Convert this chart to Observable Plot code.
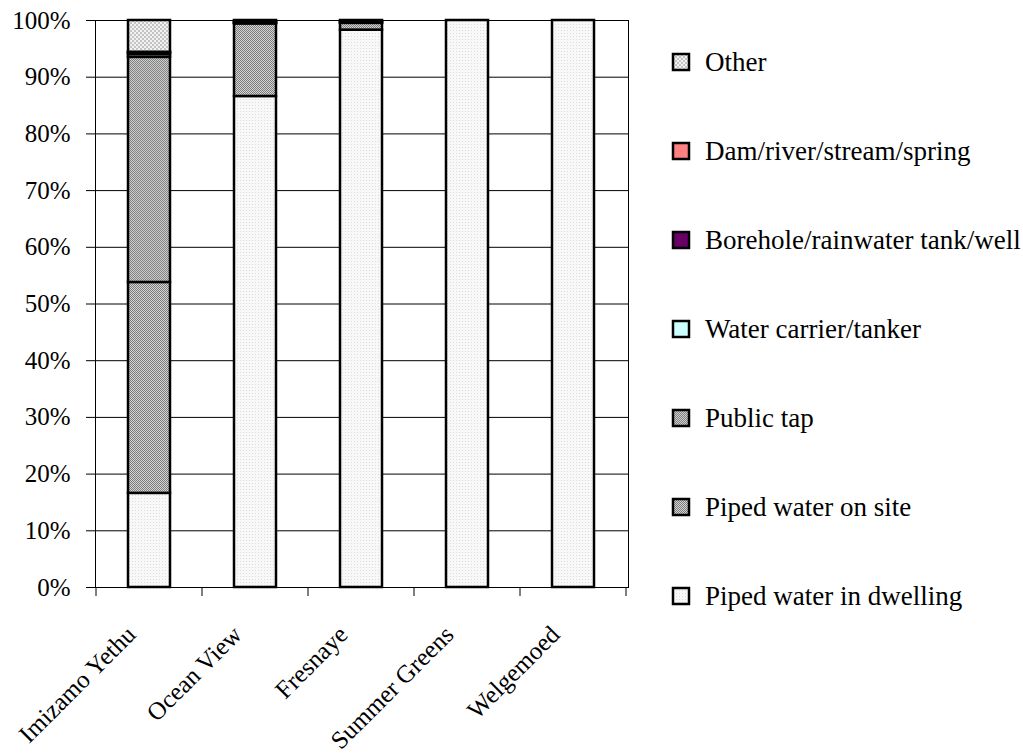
<!DOCTYPE html>
<html>
<head>
<meta charset="utf-8">
<script src="https://cdn.jsdelivr.net/npm/d3@7"></script>
<script src="https://cdn.jsdelivr.net/npm/@observablehq/plot@0.6"></script>
<style>
  html, body { margin: 0; padding: 0; background: #fff; }
  #chart svg { display: block; }
</style>
</head>
<body>
<div id="chart"></div>
<script>
// Suburbs along the x axis
const areas = ["Imizamo Yethu", "Ocean View", "Fresnaye", "Summer Greens", "Welgemoed"];

// Main source of water, bottom of the stack first
const sources = [
  "Piped water in dwelling",
  "Piped water on site",
  "Public tap",
  "Water carrier/tanker",
  "Borehole/rainwater tank/well",
  "Dam/river/stream/spring",
  "Other"
];

// Share of households per source, one value per area (same order as areas)
const pipedDwelling = [0.166, 0.866, 0.983, 1.000, 1.000];
const pipedOnSite   = [0.372, 0.128, 0.012, 0.000, 0.000];
const publicTap     = [0.397, 0.001, 0.001, 0.000, 0.000];
const waterCarrier  = [0.005, 0.001, 0.000, 0.000, 0.000];
const borehole      = [0.003, 0.002, 0.002, 0.000, 0.000];
const damRiver      = [0.001, 0.000, 0.000, 0.000, 0.000];
const other         = [0.056, 0.002, 0.002, 0.000, 0.000];

const yTicks = [0, 0.1, 0.2, 0.3, 0.4, 0.5, 0.6, 0.7, 0.8, 0.9, 1.0];

const seriesValues = [pipedDwelling, pipedOnSite, publicTap, waterCarrier, borehole, damRiver, other];
const rows = [];
sources.forEach((s, si) => {
  areas.forEach((a, ai) => {
    const v = seriesValues[si][ai];
    if (v > 0) rows.push({area: a, source: s, value: v});
  });
});

// Fill for each source (patterns are defined in the svg <defs>)
const fills = [
  "url(#pDwelling)",
  "url(#pOnSite)",
  "url(#pTap)",
  "#ccffff",
  "#660066",
  "#ff8080",
  "url(#pOther)"
];

const serif = "'Liberation Serif', 'Times New Roman', serif";
const W = 1023, H = 753;
const mL = 95, mR = W - 628, mT = 20, mB = H - 587;

// Category boundary ticks under the x axis
function boundaryTicks(index, scales, values, dims) {
  const x = scales.x, y = scales.y;
  const gap = (x.step() - x.bandwidth()) / 2;
  const xs = areas.map(a => x(a) - gap);
  xs.push(x(areas[areas.length - 1]) + x.bandwidth() + gap);
  const y0 = y(0);
  const g = d3.create("svg:g");
  g.selectAll("line").data(xs).join("line")
    .attr("x1", d => d).attr("x2", d => d)
    .attr("y1", y0).attr("y2", y0 + 9)
    .attr("stroke", "black").attr("stroke-width", 1);
  return g.node();
}

// Legend to the right of the plot area, top entry first
function legend(index, scales, values, dims) {
  const g = d3.create("svg:g");
  const items = sources.map((s, i) => ({s, f: fills[i]})).reverse();
  const x0 = 673, y0 = 62, gap = 89;
  const it = g.selectAll("g").data(items).join("g")
    .attr("transform", (d, i) => `translate(${x0},${y0 + i * gap})`);
  it.append("rect")
    .attr("x", 0).attr("y", -8).attr("width", 16).attr("height", 16)
    .attr("fill", d => d.f).attr("stroke", "black").attr("stroke-width", 2.5);
  it.append("text")
    .attr("x", 32).attr("y", 0).attr("dy", "0.35em")
    .attr("text-anchor", "start")
    .attr("font-family", serif).attr("font-size", 27).attr("fill", "black")
    .text(d => d.s);
  return g.node();
}

const chart = Plot.plot({
  width: W,
  height: H,
  marginLeft: mL,
  marginRight: mR,
  marginTop: mT,
  marginBottom: mB,
  style: {fontFamily: serif, fontSize: "25px", color: "black", background: "white"},
  x: {domain: areas, paddingInner: 0.6, paddingOuter: 0.3, label: null},
  y: {domain: [0, 1], label: null},
  color: {domain: sources, range: fills},
  marks: [
    Plot.gridY(yTicks, {stroke: "black", strokeOpacity: 1, strokeWidth: 1}),
    Plot.frame({stroke: "black", strokeWidth: 1}),
    Plot.barY(rows, {
      x: "area", y: "value", fill: "source", order: sources,
      stroke: "black", strokeWidth: 2.5
    }),
    Plot.axisY({
      ticks: yTicks, tickFormat: d3.format(".0%"), tickSize: 9, tickPadding: 16,
      fontSize: 25, label: null
    }),
    Plot.axisX({
      tickRotate: -45, tickSize: 0, tickPadding: 43, dx: -18, fontSize: 25, label: null
    }),
    boundaryTicks,
    legend
  ]
});

// Hatch patterns for the bar segments
const defs = d3.select(chart).insert("defs", ":first-child");
function checker(id, size, a, b) {
  const p = defs.append("pattern").attr("id", id)
    .attr("patternUnits", "userSpaceOnUse")
    .attr("width", size * 2).attr("height", size * 2);
  p.append("rect").attr("width", size * 2).attr("height", size * 2).attr("fill", a);
  p.append("rect").attr("width", size).attr("height", size).attr("fill", b);
  p.append("rect").attr("x", size).attr("y", size).attr("width", size).attr("height", size).attr("fill", b);
  p.attr("shape-rendering", "crispEdges");
}
checker("pOnSite", 1, "#d4d4d4", "#7c7c7c");
checker("pTap", 1, "#cccccc", "#848484");
checker("pOther", 2, "#f2f2f2", "#c4c4c4");
{
  const p = defs.append("pattern").attr("id", "pDwelling")
    .attr("patternUnits", "userSpaceOnUse").attr("width", 3).attr("height", 3);
  p.append("rect").attr("width", 3).attr("height", 3).attr("fill", "#f8f8f8");
  p.append("rect").attr("width", 1).attr("height", 1).attr("fill", "#dcdcdc");
}

document.getElementById("chart").appendChild(chart);
</script>
</body>
</html>
